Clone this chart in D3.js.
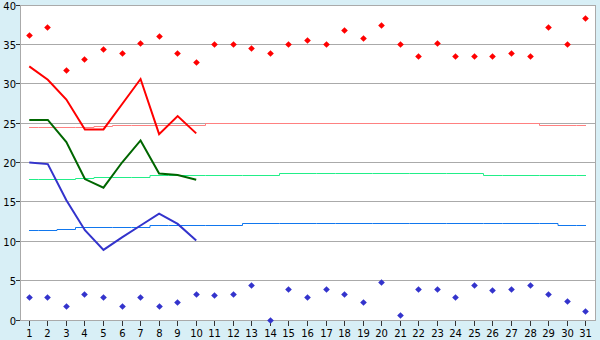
<!DOCTYPE html>
<html>
<head>
<meta charset="utf-8">
<script src="https://cdn.jsdelivr.net/npm/d3@7"></script>
<style>
  body { margin: 0; background: #d8eff6; }
  svg { display: block; }
  text { font-family: "DejaVu Sans", Verdana, sans-serif; font-size: 10px; fill: #000; }
</style>
</head>
<body>
<svg width="600" height="340"></svg>
<script>
const days = [1,2,3,4,5,6,7,8,9,10,11,12,13,14,15,16,17,18,19,20,21,22,23,24,25,26,27,28,29,30,31];
const yTicks = [0,5,10,15,20,25,30,35,40];

// daily extremes (diamonds)
const maxTemps = [36.1,37.2,31.7,33.1,34.4,33.9,35.1,36.0,33.9,32.7,35.0,35.0,34.5,33.9,35.0,35.5,35.0,36.8,35.8,37.4,35.0,33.4,35.1,33.4,33.4,33.4,33.9,33.4,37.2,35.0,38.3];
const minTemps = [2.9,2.9,1.7,3.3,2.9,1.7,2.9,1.7,2.2,3.3,3.1,3.2,4.4,0,3.9,2.9,3.9,3.3,2.2,4.8,0.6,3.9,3.9,2.9,4.4,3.8,3.9,4.4,3.3,2.4,1.1];

// this month's series (first 10 days)
const highLine = [32.2,30.5,28.0,24.2,24.2,27.4,30.6,23.6,25.9,23.7];
const meanLine = [25.4,25.4,22.6,17.9,16.8,20.0,22.8,18.6,18.4,17.8];
const lowLine  = [20.0,19.8,15.2,11.4,8.9,10.5,12.0,13.5,12.2,10.1];

// normals
const normalHigh = [24.5,24.5,24.5,24.5,24.6,24.75,24.75,24.75,24.75,24.75,25,25,25,25,25,25,25,25,25,25,25,25,25,25,25,25,24.9,24.9,24.75,24.75,24.75];
const normalMean = [17.9,17.9,17.9,18.0,18.15,18.15,18.15,18.3,18.3,18.3,18.3,18.4,18.4,18.4,18.55,18.55,18.55,18.55,18.55,18.55,18.55,18.55,18.55,18.55,18.55,18.4,18.4,18.4,18.3,18.3,18.3];
const normalLow  = [11.4,11.4,11.55,11.7,11.8,11.8,11.8,11.95,11.95,12.05,12.05,12.05,12.2,12.2,12.2,12.3,12.3,12.3,12.3,12.3,12.3,12.3,12.3,12.3,12.3,12.3,12.2,12.2,12.2,12.05,12.05];

const svg = d3.select('svg');
const plotL = 20, plotR = 595, plotT = 5, plotB = 320;

const x = d3.scaleBand().domain(days).range([plotL, plotR]);
const cx = d => x(d) + x.bandwidth() / 2;
const y = d3.scaleLinear().domain([0, 40]).range([plotB, plotT]);
const px = v => Math.floor(v) + 0.5;

svg.append('rect')
  .attr('x', plotL).attr('y', plotT)
  .attr('width', plotR - plotL).attr('height', plotB - plotT)
  .attr('fill', '#fff');

// gridlines + y ticks
const yAxis = svg.append('g');
yAxis.selectAll('line.grid')
  .data(yTicks)
  .enter().append('line')
  .attr('class', 'grid')
  .attr('x1', plotL).attr('x2', plotR)
  .attr('y1', d => px(y(d))).attr('y2', d => px(y(d)))
  .attr('stroke', '#aaaaaa');
yAxis.selectAll('line.tick')
  .data(yTicks)
  .enter().append('line')
  .attr('class', 'tick')
  .attr('x1', 16).attr('x2', plotL)
  .attr('y1', d => px(y(d))).attr('y2', d => px(y(d)))
  .attr('stroke', '#333');
yAxis.selectAll('text')
  .data(yTicks)
  .enter().append('text')
  .attr('x', 16)
  .attr('y', d => Math.floor(y(d)) + 5)
  .attr('text-anchor', 'end')
  .text(d => d);

// frame
svg.append('line').attr('x1', px(plotL)).attr('x2', px(plotL)).attr('y1', plotT).attr('y2', plotB + 1).attr('stroke', '#aaaaaa');
svg.append('line').attr('x1', px(plotR)).attr('x2', px(plotR)).attr('y1', plotT).attr('y2', plotB + 1).attr('stroke', '#aaaaaa');

// x ticks
const xAxis = svg.append('g');
xAxis.selectAll('line')
  .data(days)
  .enter().append('line')
  .attr('x1', d => px(cx(d))).attr('x2', d => px(cx(d)))
  .attr('y1', plotB + 1).attr('y2', plotB + 6)
  .attr('stroke', '#333');
xAxis.selectAll('text')
  .data(days)
  .enter().append('text')
  .attr('x', d => px(cx(d)))
  .attr('y', 337)
  .attr('text-anchor', 'middle')
  .text(d => d);

// normals as step lines
const stepLine = d3.line()
  .x((d, i) => Math.round(cx(days[i])))
  .y(d => px(y(d)))
  .curve(d3.curveStep);

[[normalHigh, '#ff8080'], [normalMean, '#22ee88'], [normalLow, '#1177ee']].forEach(([vals, col]) => {
  svg.append('path')
    .attr('d', stepLine(vals))
    .attr('fill', 'none')
    .attr('stroke', col)
    .attr('stroke-width', 1);
});

// main lines
const line = d3.line()
  .x((d, i) => cx(days[i]))
  .y(d => y(d));

[[highLine, '#ff0000'], [meanLine, '#006600'], [lowLine, '#3333cc']].forEach(([vals, col]) => {
  svg.append('path')
    .attr('d', line(vals))
    .attr('fill', 'none')
    .attr('stroke', col)
    .attr('stroke-width', 2);
});

// diamonds
const diamond = d3.symbol(d3.symbolSquare, 22);
[[maxTemps, '#ff0000'], [minTemps, '#3333cc']].forEach(([vals, col]) => {
  svg.append('g').selectAll('path')
    .data(vals)
    .enter().append('path')
    .attr('d', diamond)
    .attr('transform', (d, i) => `translate(${px(cx(days[i]))},${px(y(d))}) rotate(45)`)
    .attr('fill', col);
});
</script>
</body>
</html>
